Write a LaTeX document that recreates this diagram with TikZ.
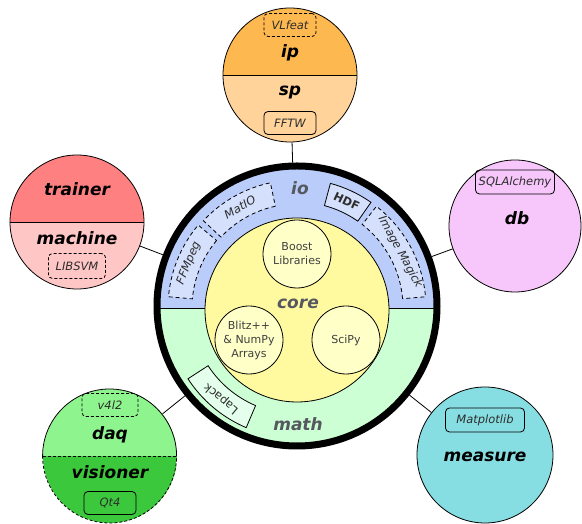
\documentclass[tikz,border=0pt]{standalone}
\usepackage{fontspec}
\setmainfont{DejaVu Sans}
\definecolor{ipcol}{RGB}{253,184,80}
\definecolor{spcol}{RGB}{255,211,153}
\definecolor{trainercol}{RGB}{255,128,128}
\definecolor{machinecol}{RGB}{255,198,198}
\definecolor{dbcol}{RGB}{247,198,250}
\definecolor{measurecol}{RGB}{135,222,226}
\definecolor{daqcol}{RGB}{142,245,142}
\definecolor{viscol}{RGB}{60,200,60}
\definecolor{iocol}{RGB}{186,204,250}
\definecolor{ioboxcol}{RGB}{212,224,252}
\definecolor{mathcol}{RGB}{204,255,212}
\definecolor{mathboxcol}{RGB}{228,255,236}
\definecolor{corecol}{RGB}{255,249,160}
\definecolor{innercol}{RGB}{255,255,200}
\definecolor{ringtxt}{RGB}{85,88,95}
\definecolor{pkgtxt}{RGB}{45,45,45}
\definecolor{libtxt}{RGB}{64,64,64}
\tikzset{
  bub/.style={circle, minimum size=134pt, inner sep=0pt, line width=0.8pt},
  halves/.style 2 args={path picture={
      \fill[#1] (path picture bounding box.north west) rectangle (path picture bounding box.east);
      \fill[#2] (path picture bounding box.west) rectangle (path picture bounding box.south east);}},
  big/.style={font=\fontsize{17}{17}\selectfont\bfseries\itshape, text=black, inner sep=0pt},
  ringlbl/.style={big, text=ringtxt},
  pkg/.style={draw, line width=0.8pt, rounded corners=4pt, font=\fontsize{11.5}{11.5}\selectfont\itshape,
    text=pkgtxt, minimum width=52pt, minimum height=23pt, inner sep=0pt},
  optpkg/.style={pkg, dash pattern=on 3pt off 2pt},
  lib/.style={circle, draw, line width=0.8pt, fill=innercol, minimum size=68pt, inner sep=0pt,
    align=center, font=\fontsize{11}{14}\selectfont, text=libtxt},
  secbox/.style={line width=0.8pt, fill=ioboxcol},
  secopt/.style={secbox, dash pattern=on 4pt off 3pt},
  sectxt/.style={font=\fontsize{11.5}{11.5}\selectfont\itshape, text=pkgtxt, inner sep=0pt},
  conn/.style={line width=0.8pt},
  split/.style={line width=0.8pt},
}
\newcommand\sectorbox[8]{%
  \draw[#2] ([shift={(#3:#5)}]sc) arc[start angle=#3, end angle=#4, radius=#5]
    -- ([shift={(#4:#6)}]sc) arc[start angle=#4, end angle=#3, radius=#6] -- cycle;
  \node[#7, rotate={(#3+#4)/2-90}] (#1) at ([shift={({(#3+#4)/2}:{(#5+#6)/2})}]sc) {#8};
}
\begin{document}
\begin{tikzpicture}[x=1pt,y=1pt]
\useasboundingbox (0,0) rectangle (582,524);
\coordinate (mc) at (297,218);
\coordinate (sc) at (297,216);
% io / math halves
\begin{scope}
  \clip (mc) circle (140);
  \fill[iocol] (140,216) rectangle (460,370);
  \fill[mathcol] (140,216) rectangle (460,60);
  \draw[split] (140,216) -- (460,216);
\end{scope}
% io ring boxes
\sectorbox{ffmpeg}{secopt}{140}{175}{105}{129}{sectxt}{FFMpeg}
\sectorbox{matio}{secopt}{102}{137}{104}{128}{sectxt}{MatIO}
\sectorbox{hdf}{secbox}{55}{75}{106}{129}{sectxt,font=\fontsize{11.5}{11.5}\selectfont\bfseries}{HDF}
\sectorbox{magick}{secopt}{5}{52}{106}{129}{sectxt}{Image Magick}
\sectorbox{lapack}{secbox,fill=mathboxcol}{213}{247}{106}{130}{sectxt,font=\fontsize{11.5}{11.5}\selectfont}{Lapack}
% core
\node[circle, draw, line width=0.8pt, fill=corecol, minimum size=184pt, inner sep=0pt] (core) at (297,214) {};
\node[lib] (boost) at (297,270) {Boost\\Libraries};
\node[lib] (blitz) at (249,184) {Blitz++\\\& NumPy\\Arrays};
\node[lib] (scipy) at (346,184) {SciPy};
\node[ringlbl] (iolbl) at (300,336) {io};
\node[ringlbl] (corelbl) at (298,220) {core};
\node[ringlbl] (mathlbl) at (298,100) {math};
% main ring
\node[circle, draw, line width=7pt, minimum size=280pt, inner sep=0pt] (main) at (297,218) {};
% outer bubbles
\node[bub, draw, halves={ipcol}{spcol}] (ipsp) at (290,449) {};
\draw[split] (ipsp.west) -- (ipsp.east);
\node[optpkg] (vlfeat) at (290,499) {VLfeat};
\node[big] (iplbl) at (290,471) {ip};
\node[big] (splbl) at (290,431) {sp};
\node[pkg] (fftw) at (290,401) {FFTW};

\node[bub, draw, halves={trainercol}{machinecol}] (trainer) at (77,302) {};
\draw[split] (trainer.west) -- (trainer.east);
\node[big] (trainerlbl) at (77,335) {trainer};
\node[big] (machinelbl) at (77,286) {machine};
\node[optpkg, minimum width=57pt, minimum height=25pt] (libsvm) at (77,258) {LIBSVM};

\node[bub, draw, fill=dbcol, minimum size=132pt] (db) at (515,298) {};
\node[pkg, minimum width=79pt, minimum height=24pt] (sqla) at (515,342) {SQLAlchemy};
\node[big] (dblbl) at (517,306) {db};

\node[bub, draw, fill=measurecol, minimum size=136pt] (measure) at (485,69) {};
\node[pkg, minimum width=79pt, minimum height=24pt] (mpl) at (485,104) {Matplotlib};
\node[big] (measurelbl) at (485,67) {measure};

\node[bub, halves={daqcol}{viscol}] (daqvis) at (110,68) {};
\draw[split] (daqvis.west) arc[start angle=180, end angle=0, radius=67];
\draw[split, dash pattern=on 3pt off 2pt] (daqvis.west) arc[start angle=180, end angle=360, radius=67];
\draw[split, dash pattern=on 3pt off 2pt] (daqvis.west) -- (daqvis.east);
\node[optpkg, minimum width=56pt] (v4l2) at (110,119) {v4l2};
\node[big] (daqlbl) at (110,89) {daq};
\node[big] (vislbl) at (110,52) {visioner};
\node[pkg] (qt4) at (110,21) {Qt4};
% connectors
\draw[conn] (ipsp) -- (main);
\draw[conn] (trainer) -- (main);
\draw[conn] (db) -- (main);
\draw[conn] (measure) -- (main);
\draw[conn] (daqvis) -- (main);
\end{tikzpicture}
\end{document}
